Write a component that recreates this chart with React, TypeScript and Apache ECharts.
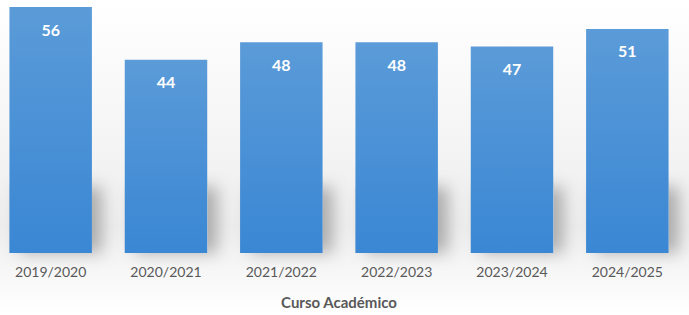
import React, { useEffect, useRef } from "react";
import * as echarts from "echarts";

const categories = ["2019/2020", "2020/2021", "2021/2022", "2022/2023", "2023/2024", "2024/2025"];
const values = [56, 44, 48, 48, 47, 51];
const shadowBase = [15, 15, 15, 15, 15, 15];
const axisTitle = "Curso Académico";

export default function App() {
  const ref = useRef<HTMLDivElement>(null);
  useEffect(() => {
    document.body.style.margin = "0";
    document.body.style.overflow = "hidden";
    const chart = echarts.init(ref.current!, null, { renderer: "svg" });
    chart.setOption({
      animation: false,
      backgroundColor: new echarts.graphic.LinearGradient(0, 0, 0, 1, [
        { offset: 0, color: "#ffffff" },
        { offset: 0.35, color: "#f7f7f7" },
        { offset: 0.72, color: "#ededed" },
        { offset: 0.85, color: "#f6f6f6" },
        { offset: 1, color: "#ffffff" },
      ]),
      grid: { left: 0, right: 4, top: 7, bottom: 62, containLabel: false },
      xAxis: {
        type: "category",
        data: categories,
        axisLine: { show: false },
        axisTick: { show: false },
        axisLabel: { color: "#595959", fontSize: 14, fontFamily: "Lato", margin: 11 },
        name: axisTitle,
        nameLocation: "middle",
        nameGap: 41,
        nameTextStyle: { color: "#595959", fontSize: 15, fontWeight: "bold", fontFamily: "Lato" },
      },
      yAxis: { type: "value", min: 0, max: 56, show: false, splitLine: { show: false } },
      series: [
        {
          type: "bar",
          data: shadowBase,
          barWidth: "71.5%",
          silent: true,
          z: 1,
          itemStyle: {
            color: "#d0d0d0",
            shadowColor: "rgba(0,0,0,0.28)",
            shadowBlur: 16,
            shadowOffsetX: 10,
            shadowOffsetY: 0,
          },
        },
        {
          type: "bar",
          data: values,
          barWidth: "71.5%",
          barGap: "-100%",
          z: 2,
          itemStyle: {
            color: new echarts.graphic.LinearGradient(0, 0, 0, 1, [
              { offset: 0, color: "#5b9bd8" },
              { offset: 1, color: "#3a87d4" },
            ]),
          },
          label: {
            show: true,
            position: "insideTop",
            distance: 14,
            color: "#ffffff",
            fontSize: 16,
            fontWeight: "bold",
            fontFamily: "Lato",
          },
        },
      ],
    });
    return () => chart.dispose();
  }, []);
  return <div ref={ref} style={{ width: 696, height: 315, marginLeft: -7 }} />;
}
